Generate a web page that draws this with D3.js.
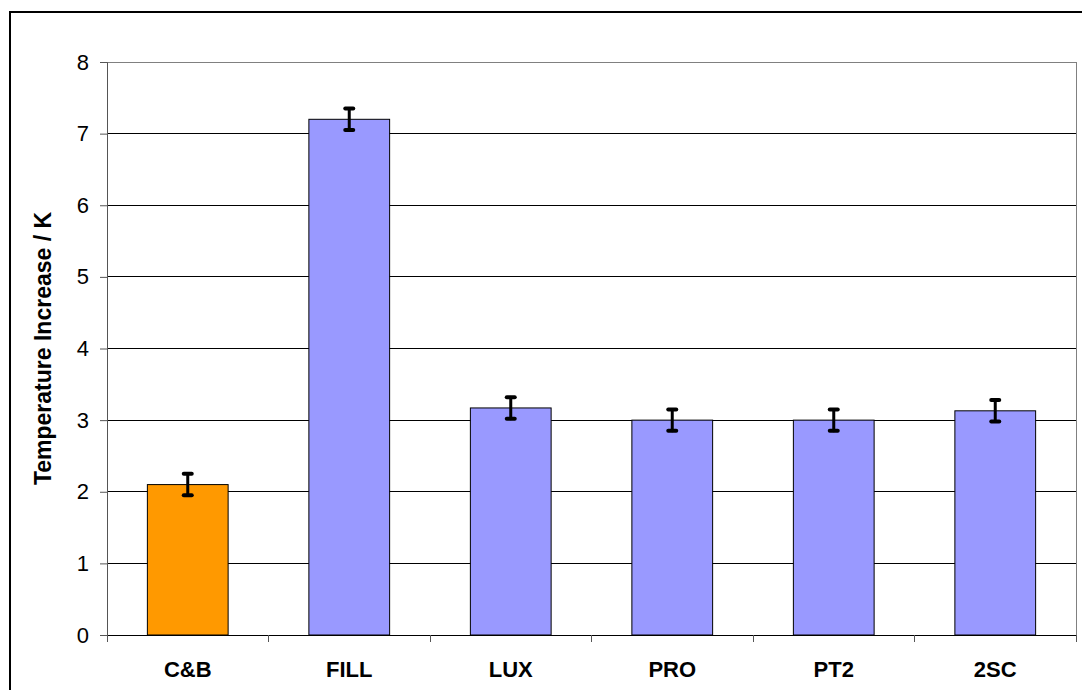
<!DOCTYPE html>
<html>
<head>
<meta charset="utf-8">
<script src="https://cdn.jsdelivr.net/npm/d3@7"></script>
<style>
  body { margin: 0; background: #fff; }
  svg { display: block; font-family: "Liberation Sans", Arial, sans-serif; }
</style>
</head>
<body>
<svg id="chart" width="1082" height="690"></svg>
<script>
let categories = ["C&B", "FILL", "LUX", "PRO", "PT2", "2SC"];
let values = [2.1, 7.2, 3.17, 3.0, 3.0, 3.13];
let errors = [0.15, 0.15, 0.15, 0.15, 0.15, 0.15];
let yTicks = [0, 1, 2, 3, 4, 5, 6, 7, 8];
let barColors = ["#ff9900", "#9999ff", "#9999ff", "#9999ff", "#9999ff", "#9999ff"];

let svg = d3.select("#chart");

let plotLeft = 107, plotRight = 1076, plotTop = 62, plotBottom = 635;

// outer frame (runs off the right and bottom edge)
svg.append("rect")
   .attr("x", 10).attr("y", 12)
   .attr("width", 1100).attr("height", 700)
   .attr("fill", "none")
   .attr("stroke", "#000")
   .attr("stroke-width", 2);

let xScale = d3.scaleBand()
               .domain(categories)
               .range([plotLeft, plotRight]);

let yScale = d3.scaleLinear()
               .domain([0, 8])
               .range([plotBottom, plotTop]);

// gridlines
svg.append("g")
   .selectAll("line")
   .data(yTicks.filter(t => t > 0 && t < 8))
   .enter()
   .append("line")
   .attr("x1", plotLeft).attr("x2", plotRight)
   .attr("y1", d => yScale(d)).attr("y2", d => yScale(d))
   .attr("stroke", "#000")
   .attr("stroke-width", 1)
   .attr("shape-rendering", "crispEdges");

// plot border (top, right)
svg.append("path")
   .attr("d", `M${plotLeft},${plotTop}H${plotRight}V${plotBottom}`)
   .attr("fill", "none")
   .attr("stroke", "#808080")
   .attr("stroke-width", 1)
   .attr("shape-rendering", "crispEdges");

// bars
svg.append("g")
   .selectAll("rect")
   .data(categories)
   .enter()
   .append("rect")
   .attr("x", d => xScale(d) + xScale.bandwidth() / 4)
   .attr("y", (d, i) => yScale(values[i]))
   .attr("width", xScale.bandwidth() / 2)
   .attr("height", (d, i) => plotBottom - yScale(values[i]))
   .attr("fill", (d, i) => barColors[i])
   .attr("stroke", "#000")
   .attr("stroke-width", 1);

// error bars
let errG = svg.append("g")
              .attr("stroke", "#000")
              .attr("stroke-linecap", "round");

categories.forEach((c, i) => {
  let cx = xScale(c) + xScale.bandwidth() / 2;
  let y1 = yScale(values[i] + errors[i]);
  let y2 = yScale(values[i] - errors[i]);
  errG.append("line")
      .attr("x1", cx).attr("x2", cx)
      .attr("y1", y1).attr("y2", y2)
      .attr("stroke-width", 3);
  [y1, y2].forEach(y => {
    errG.append("line")
        .attr("x1", cx - 4).attr("x2", cx + 4)
        .attr("y1", y).attr("y2", y)
        .attr("stroke-width", 4);
  });
});

// y axis
let yAxis = d3.axisLeft(yScale)
              .tickValues(yTicks)
              .tickSize(7)
              .tickPadding(11)
              .tickFormat(d3.format("d"));

let yG = svg.append("g")
            .attr("transform", `translate(${plotLeft},0)`)
            .call(yAxis);
yG.select(".domain").attr("stroke", "#555");
yG.selectAll(".tick line").attr("stroke", "#555");
yG.selectAll("text")
  .attr("font-size", 22)
  .attr("font-family", "Liberation Sans, Arial, sans-serif")
  .attr("fill", "#000");

// x axis
let xAxis = d3.axisBottom(xScale)
              .tickSize(0)
              .tickPadding(0);

let xG = svg.append("g")
            .attr("transform", `translate(0,${plotBottom})`)
            .call(xAxis);
xG.select(".domain").attr("stroke", "#000");
xG.selectAll("text")
  .attr("y", 42)
  .attr("dy", null)
  .attr("font-size", 22)
  .attr("font-weight", "bold")
  .attr("font-family", "Liberation Sans, Arial, sans-serif")
  .attr("fill", "#000");

// category separator ticks
svg.append("g")
   .selectAll("line")
   .data(d3.range(categories.length + 1))
   .enter()
   .append("line")
   .attr("x1", i => plotLeft + i * xScale.step())
   .attr("x2", i => plotLeft + i * xScale.step())
   .attr("y1", plotBottom).attr("y2", plotBottom + 7)
   .attr("stroke", "#555")
   .attr("shape-rendering", "crispEdges");

// y title
svg.append("text")
   .attr("transform", `translate(51,${(plotTop + plotBottom) / 2}) rotate(-90)`)
   .attr("text-anchor", "middle")
   .attr("font-size", 23)
   .attr("font-weight", "bold")
   .text("Temperature Increase / K");
</script>
</body>
</html>
